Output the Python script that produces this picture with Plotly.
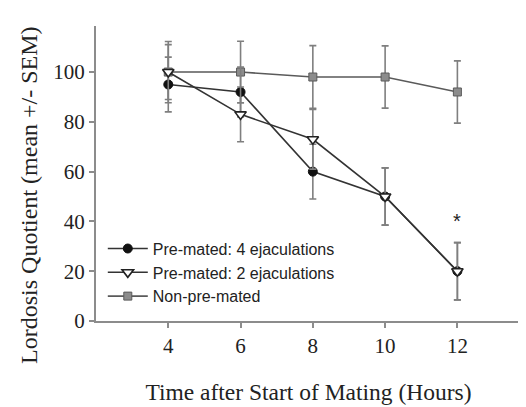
import plotly.graph_objects as go

hours = [4, 6, 8, 10, 12]

# Pre-mated: 4 ejaculations
pm4_mean = [95, 92, 60, 50, 20]
pm4_sem = [11, 10, 11, 11.5, 11.5]

# Pre-mated: 2 ejaculations
pm2_mean = [100, 83, 73, 50, 20]
pm2_sem = [11, 11, 12, 11.5, 11.5]

# Non-pre-mated
npm_mean = [100, 100, 98, 98, 92]
npm_sem = [12.3, 12.4, 12.6, 12.5, 12.5]

y_ticks = [0, 20, 40, 60, 80, 100]
x_ticks = [4, 6, 8, 10, 12]

names = ["Pre-mated: 4 ejaculations", "Pre-mated: 2 ejaculations", "Non-pre-mated"]

err_style = dict(type="data", visible=True, color="#7f7f7f", thickness=1.6, width=3.5)
serif = "Liberation Serif, Times New Roman, serif"
sans = "Liberation Sans, Arial, sans-serif"

fig = go.Figure()

fig.add_trace(go.Scatter(
    x=hours, y=npm_mean, name=names[2], legendrank=3,
    mode="lines+markers",
    line=dict(color="#5a5a5a", width=1.6),
    marker=dict(symbol="square", size=8, color="#8c8c8c", line=dict(color="#5a5a5a", width=1)),
    error_y=dict(array=npm_sem, **err_style),
))
fig.add_trace(go.Scatter(
    x=hours, y=pm4_mean, name=names[0], legendrank=1,
    mode="lines+markers",
    line=dict(color="#333333", width=1.6),
    marker=dict(symbol="circle", size=9, color="#111111", line=dict(color="#111111", width=1)),
    error_y=dict(array=pm4_sem, **err_style),
))
fig.add_trace(go.Scatter(
    x=hours, y=pm2_mean, name=names[1], legendrank=2,
    mode="lines+markers",
    line=dict(color="#333333", width=1.6),
    marker=dict(symbol="triangle-down", size=10, color="white", line=dict(color="#222222", width=1.6)),
    error_y=dict(array=pm2_sem, **err_style),
))

fig.add_annotation(x=12, y=40, text="*", showarrow=False,
                   font=dict(family=sans, size=20, color="#222222"))

fig.add_annotation(xref="paper", yref="paper", x=-0.158, y=0.427, xanchor="center", yanchor="middle",
                   text="Lordosis Quotient (mean +/- SEM)", textangle=-90, showarrow=False,
                   font=dict(family=serif, size=24, color="#222222"))

fig.update_layout(
    width=518, height=399,
    margin=dict(l=88, r=5, t=18, b=86),
    paper_bgcolor="white", plot_bgcolor="white",
    showlegend=True,
    legend=dict(x=0.016, y=0.303, xanchor="left", yanchor="top", bgcolor="rgba(0,0,0,0)",
                font=dict(family=sans, size=16, color="#222222"),
                tracegroupgap=0, itemwidth=40),
    font=dict(family=serif, color="#222222"),
)

fig.update_xaxes(
    range=[2, 13.76], tickvals=x_ticks, ticktext=[str(v) for v in x_ticks],
    showgrid=False, zeroline=False, showline=True, linecolor="#8c8c8c", linewidth=2,
    ticks="outside", ticklen=5, tickcolor="#8c8c8c", tickwidth=1.5,
    tickfont=dict(family=serif, size=21, color="#222222"),
    title=dict(text="Time after Start of Mating (Hours)", standoff=26,
               font=dict(family=serif, size=23.5, color="#222222")),
)
fig.update_yaxes(
    range=[0, 118.5], tickvals=y_ticks, ticktext=[str(v) for v in y_ticks],
    showgrid=False, zeroline=False, showline=True, linecolor="#8c8c8c", linewidth=2,
    ticks="outside", ticklen=5, tickcolor="#8c8c8c", tickwidth=1.5,
    tickfont=dict(family=serif, size=21, color="#222222"),
)

fig.write_html("out.html")
